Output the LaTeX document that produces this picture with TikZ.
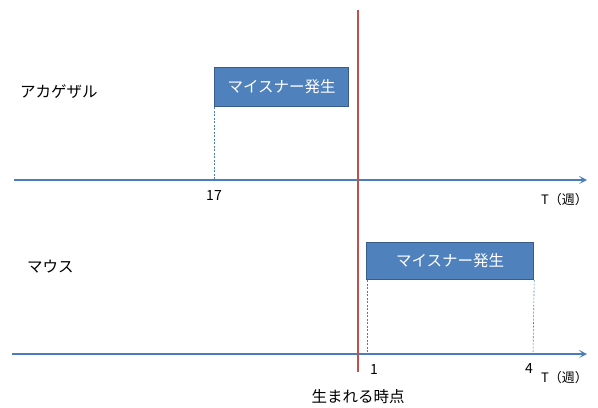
\documentclass[tikz,border=0pt]{standalone}
\usepackage{fontspec}
\setmainfont{Noto Sans CJK JP}
\usetikzlibrary{arrows.meta}
\definecolor{axisblue}{HTML}{4A7EBB}
\definecolor{boxfill}{HTML}{4F81BD}
\definecolor{boxline}{HTML}{385D8A}
\definecolor{redline}{HTML}{C0504D}
\tikzset{
  axis/.style={draw=axisblue, line width=1.6bp, -{Stealth[length=8bp,width=8bp,inset=4bp]}},
  meiosis/.style={draw=boxline, fill=boxfill, line width=1.2bp, text=white, font=\fontsize{15.5bp}{18bp}\selectfont, anchor=north west, inner sep=0pt},
  guide/.style={draw=axisblue, line width=0.6bp, dash pattern=on 2bp off 1.5bp},
  lbl/.style={font=\fontsize{15.5bp}{18bp}\selectfont, inner sep=0pt},
  num/.style={font=\fontsize{14bp}{16bp}\selectfont, inner sep=0pt},
  unit/.style={font=\fontsize{13bp}{15bp}\selectfont, inner sep=0pt},
}
\begin{document}
\begin{tikzpicture}[x=1bp,y=-1bp]
\useasboundingbox (0,0) rectangle (598,407);
% axes
\coordinate (a1s) at (14,180);
\coordinate (a1e) at (587,180);
\coordinate (a2s) at (12,354);
\coordinate (a2e) at (587,354);
\draw[axis] (a1s) -- (a1e);
\draw[axis] (a2s) -- (a2e);
% red birth line
\coordinate (rt) at (358,10);
\coordinate (rb) at (358,372);
\draw[draw=redline, line width=1.6bp] (rt) -- (rb);
% boxes
\node[meiosis, minimum width=134bp, minimum height=39bp] (box1) at (214,67) {マイスナー発生};
\node[meiosis, minimum width=167bp, minimum height=37bp] (box2) at (366,242) {マイスナー発生};
% guides
\coordinate (g1) at (214,180);
\coordinate (g2) at (367,354);
\coordinate (g3) at (533,354);
\draw[guide] (box1.south west) -- (g1);
\draw[guide] ([xshift=1bp]box2.south west) -- (g2);
\draw[guide] (box2.south east) -- (g3);
% labels
\node[lbl, anchor=west] (akage) at (20,92) {アカゲザル};
\node[lbl, anchor=west] (mouse) at (27,267) {マウス};
\node[num] (n17) at (214,196) {17};
\node[num] (n1) at (374,369) {1};
\node[num] (n4) at (529,368) {4};
\node[unit, anchor=east] (t1) at (588,200) {T（週）};
\node[unit, anchor=east] (t2) at (588,378) {T（週）};
\node[lbl] (birth) at (358,397) {生まれる時点};
\end{tikzpicture}
\end{document}
